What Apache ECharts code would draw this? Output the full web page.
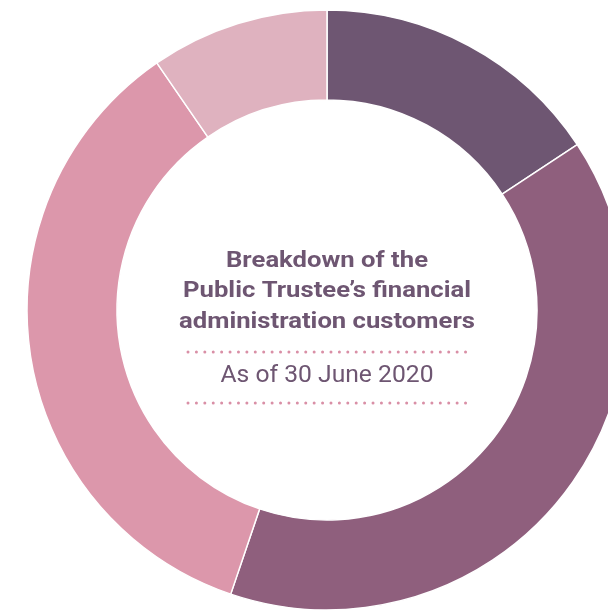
<!DOCTYPE html>
<html><head><meta charset="utf-8">
<script src="https://cdn.jsdelivr.net/npm/echarts@6/dist/echarts.min.js"></script>
<style>html,body{margin:0;padding:0;background:#fff}#c{width:608px;height:610px}</style>
</head><body><div id="c"></div>
<script>
const categories = ['Segment A', 'Segment B', 'Segment C', 'Segment D'];
const values = [15.7, 39.5, 35.2, 9.6];
const colors = ['#6e5672', '#8f5f7d', '#dc97ab', '#dfb2bf'];
const titleLines = ['Breakdown of the', 'Public Trustee\u2019s financial', 'administration customers'];
const subtitle = 'As of 30 June 2020';

const cx = 327, cy = 310;
const chart = echarts.init(document.getElementById('c'));
const dotLine = (y) => ({
  type: 'line', shape: {x1: 188, y1: y, x2: 471, y2: y},
  style: {stroke: '#d98fa6', lineWidth: 3, lineDash: [0.01, 8.4], lineCap: 'round'}
});
chart.setOption({
  animation: false,
  series: [{
    type: 'pie', center: [cx, cy], radius: [210, 300], startAngle: 90, clockwise: true,
    label: {show: false}, labelLine: {show: false}, silent: true,
    itemStyle: {borderColor: '#ffffff', borderWidth: 1.5},
    data: categories.map((n, i) => ({name: n, value: values[i], itemStyle: {color: colors[i]}}))
  }],
  graphic: [
    ...titleLines.map((t, i) => ({
      type: 'text', x: cx, y: 261 + i * 30.5, scaleX: 1.14,
      style: {text: t, fill: '#6e5672', font: 'bold 22.5px Roboto', textAlign: 'center', textVerticalAlign: 'middle'}
    })),
    dotLine(352),
    {type: 'text', x: cx, y: 376.5, scaleX: 1.05,
      style: {text: subtitle, fill: '#6e5672', font: '23.5px Roboto', textAlign: 'center', textVerticalAlign: 'middle'}},
    dotLine(403)
  ]
});
</script></body></html>
